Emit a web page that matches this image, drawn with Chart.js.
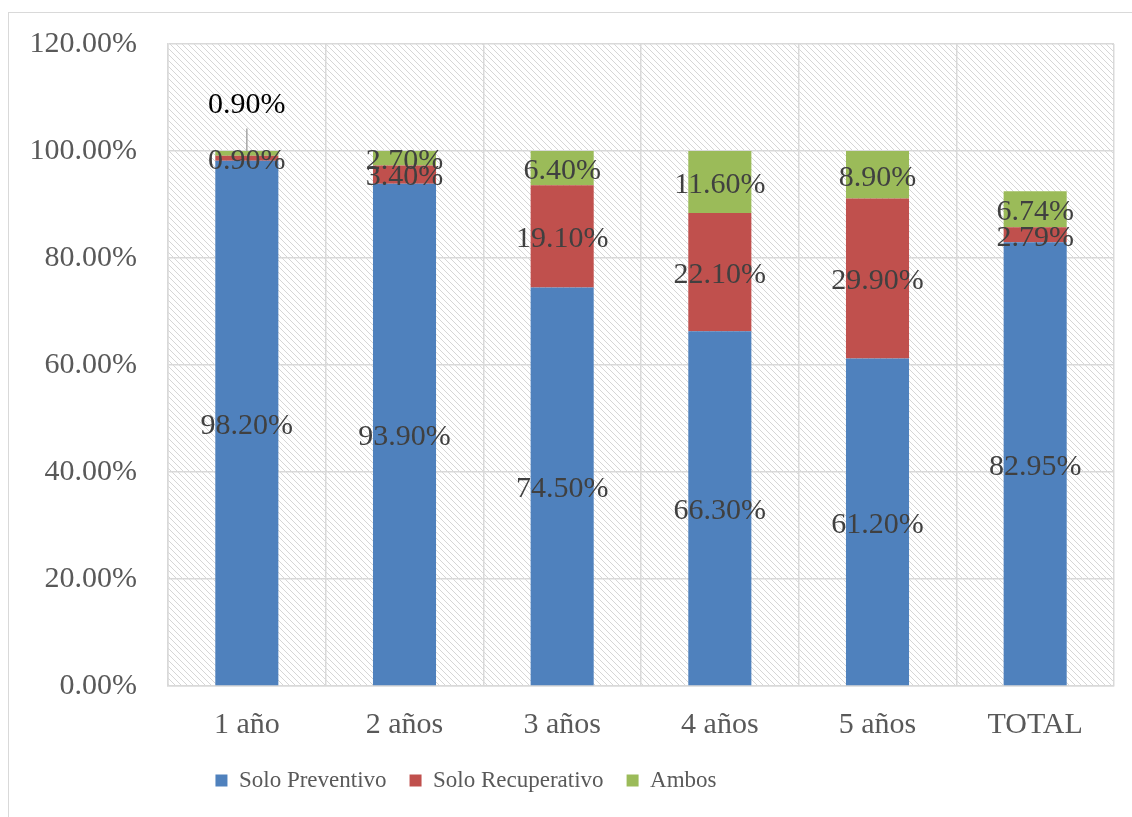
<!DOCTYPE html>
<html>
<head>
<meta charset="utf-8">
<script src="https://cdn.jsdelivr.net/npm/chart.js@4/dist/chart.umd.min.js"></script>
<style>
  body { margin: 0; background: #fff; }
  canvas { display: block; }
</style>
</head>
<body>
<canvas id="grafico" width="1132" height="817"></canvas>
<script>
// Datos del gráfico
const categorias = ["1 año", "2 años", "3 años", "4 años", "5 años", "TOTAL"];
const soloPreventivo = [98.20, 93.90, 74.50, 66.30, 61.20, 82.95];
const soloRecuperativo = [0.90, 3.40, 19.10, 22.10, 29.90, 2.79];
const ambos = [0.90, 2.70, 6.40, 11.60, 8.90, 6.74];

const fuente = '"Liberation Serif", "Times New Roman", serif';

// Patrón rayado del fondo del área de trazado
function crearRayado(ctx) {
    const s = 6;
    const c = document.createElement('canvas');
    c.width = s; c.height = s;
    const p = c.getContext('2d');
    p.strokeStyle = '#d6d6d6';
    p.lineWidth = 1;
    p.beginPath();
    p.moveTo(-1, -1); p.lineTo(s + 1, s + 1);
    p.moveTo(-1, s - 1); p.lineTo(1, s + 1);
    p.moveTo(s - 1, -1); p.lineTo(s + 1, 1);
    p.stroke();
    return ctx.createPattern(c, 'repeat');
}

const fondo = {
    id: 'fondo',
    afterLayout(chart) {
        // la leyenda del original está corrida hacia la izquierda
        chart.legend.left -= 91;
        chart.legend.right -= 91;
    },
    beforeDraw(chart) {
        const { ctx, chartArea } = chart;
        ctx.save();
        ctx.strokeStyle = '#d9d9d9';
        ctx.lineWidth = 1;
        ctx.strokeRect(8.5, 12.5, 1200, 900); // marco exterior
        ctx.fillStyle = crearRayado(ctx);
        ctx.fillRect(chartArea.left, chartArea.top, chartArea.right - chartArea.left, chartArea.bottom - chartArea.top);
        ctx.restore();
    }
};

// Etiquetas de datos (la de "Ambos" en 1 año va arriba con línea guía)
const etiquetas = {
    id: 'etiquetas',
    afterDatasetsDraw(chart) {
        const ctx = chart.ctx;
        const yScale = chart.scales.y;
        ctx.save();
        ctx.font = '30px ' + fuente;
        ctx.fillStyle = '#404040';
        ctx.textAlign = 'center';
        ctx.textBaseline = 'middle';
        chart.data.datasets.forEach((ds, i) => {
            const meta = chart.getDatasetMeta(i);
            meta.data.forEach((bar, j) => {
                const texto = ds.data[j].toFixed(2) + '%';
                if (i === 2 && j === 0) {
                    const y = yScale.getPixelForValue(108.7);
                    ctx.strokeStyle = '#a6a6a6';
                    ctx.lineWidth = 1.5;
                    ctx.beginPath();
                    ctx.moveTo(bar.x, y + 24);
                    ctx.lineTo(bar.x, bar.y);
                    ctx.stroke();
                    ctx.fillStyle = '#000000';
                    ctx.fillText(texto, bar.x, y + 1);
                    ctx.fillStyle = '#404040';
                } else {
                    ctx.fillText(texto, bar.x, (bar.y + bar.base) / 2 + 3);
                }
            });
        });
        ctx.restore();
    }
};

const ctxGrafico = document.getElementById("grafico").getContext("2d");
new Chart(ctxGrafico, {
    type: "bar",
    data: {
        labels: categorias,
        datasets: [
            { label: "Solo Preventivo", data: soloPreventivo, backgroundColor: '#4f81bd' },
            { label: "Solo Recuperativo", data: soloRecuperativo, backgroundColor: '#c0504d' },
            { label: "Ambos", data: ambos, backgroundColor: '#9bbb59' }
        ]
    },
    options: {
        responsive: false,
        animation: false,
        categoryPercentage: 0.8,
        barPercentage: 0.5,
        layout: { padding: { left: 0, top: 44, right: 18, bottom: 15 } },
        scales: {
            x: {
                stacked: true,
                grid: { color: '#d9d9d9', lineWidth: 1.5, drawTicks: false },
                border: { color: '#d9d9d9', width: 1.5 },
                ticks: { color: '#595959', font: { family: fuente, size: 30 }, padding: 21 },
                afterFit(scale) { scale.height = 60; }
            },
            y: {
                stacked: true,
                min: 0,
                max: 120,
                grid: { color: '#d9d9d9', lineWidth: 1.5, drawTicks: false },
                border: { color: '#d9d9d9', width: 1.5 },
                ticks: {
                    stepSize: 20,
                    color: '#595959',
                    font: { family: fuente, size: 30 },
                    padding: 31,
                    callback: v => v.toFixed(2) + '%'
                },
                afterFit(scale) {
                    scale.width = 168;
                    scale.paddingTop = 10;
                    scale.paddingBottom = 10;
                }
            }
        },
        plugins: {
            legend: {
                position: 'bottom',
                labels: {
                    color: '#595959',
                    font: { family: fuente, size: 23 },
                    boxWidth: 12,
                    boxHeight: 12,
                    padding: 23
                }
            },
            tooltip: { enabled: false }
        }
    },
    plugins: [fondo, etiquetas]
});
</script>
</body>
</html>
